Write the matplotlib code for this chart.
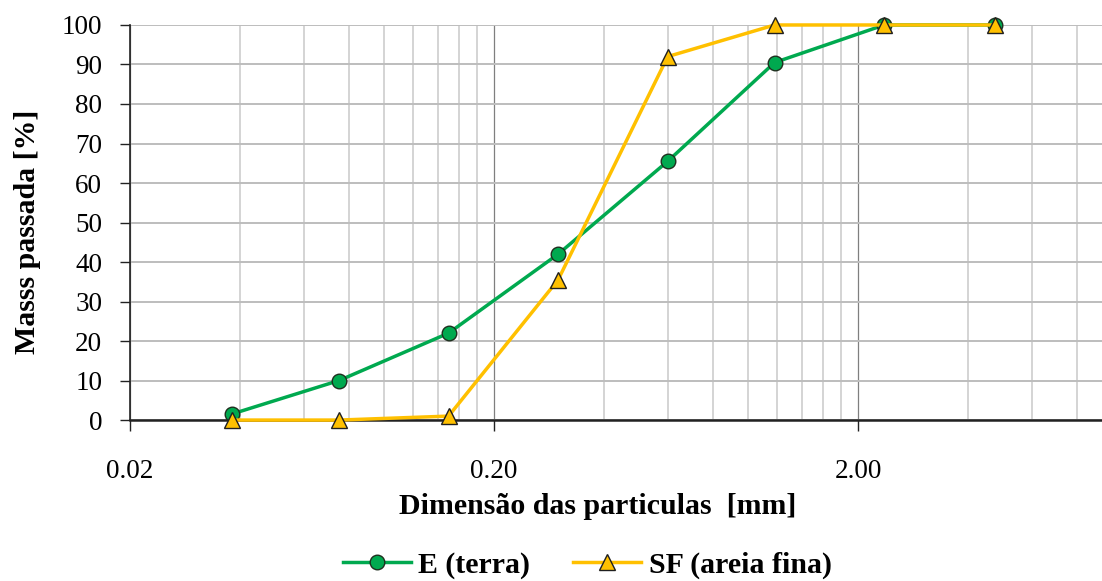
import matplotlib
matplotlib.use("Agg")
import matplotlib.pyplot as plt
from matplotlib.ticker import FixedLocator, NullFormatter

# Sieve openings [mm] and cumulative percentage passing
sizes_mm = [0.038, 0.075, 0.15, 0.30, 0.60, 1.18, 2.36, 4.75]
passing_terra = [1.5, 10, 22, 42, 65.5, 90.5, 100, 100]
passing_areia = [0, 0, 1, 35.5, 92, 100, 100, 100]

major_x = [0.02, 0.2, 2.0]
major_x_labels = ["0.02", "0.20", "2.00"]
minor_x = [0.04, 0.06, 0.08, 0.10, 0.12, 0.14, 0.16, 0.18,
           0.4, 0.6, 0.8, 1.0, 1.2, 1.4, 1.6, 1.8,
           4, 6, 8]
y_ticks = list(range(0, 101, 10))

plt.rcParams["font.family"] = ["Liberation Serif", "DejaVu Serif"]

fig = plt.figure(figsize=(11.02, 5.81), dpi=100)
ax = fig.add_axes([0.118, 0.277, 0.882, 0.680])

green = "#00A94F"
gold = "#FFC000"

ax.plot(sizes_mm, passing_terra, color=green, lw=2.5, marker="o", ms=10.5,
        mfc=green, mec="#1f2f1f", mew=1.0, label="E (terra)", zorder=4,
        clip_on=False)
ax.plot(sizes_mm, passing_areia, color=gold, lw=2.5, marker="^", ms=12,
        mfc=gold, mec="#1f1f1f", mew=1.0, label="SF (areia fina)", zorder=5,
        clip_on=False)

ax.set_xscale("log")
ax.set_xlim(0.02, 9.36)
ax.set_ylim(0, 100)

ax.xaxis.set_major_locator(FixedLocator(major_x))
ax.set_xticklabels(major_x_labels)
ax.xaxis.set_minor_locator(FixedLocator(minor_x))
ax.xaxis.set_minor_formatter(NullFormatter())
ax.set_yticks(y_ticks)

# grid: horizontal lines, light minor verticals, darker major verticals
ax.grid(axis="y", color="#bdbdbd", lw=1.4, zorder=0)
ax.grid(axis="x", which="minor", color="#d4d4d4", lw=1.4, zorder=0)
ax.grid(axis="x", which="major", color="#7f7f7f", lw=0.9, zorder=0)

for side in ("top", "right"):
    ax.spines[side].set_visible(False)
ax.spines["left"].set_color("#222222")
ax.spines["bottom"].set_color("#222222")
ax.spines["left"].set_linewidth(1.2)
ax.spines["bottom"].set_linewidth(1.8)

ax.tick_params(axis="x", which="major", direction="out", length=8, width=1,
               color="#222222", labelsize=19.5, pad=20)
ax.tick_params(axis="x", which="minor", length=0)
ax.tick_params(axis="y", direction="out", length=7, width=1,
               color="#222222", labelsize=19.5, pad=13)

ax.set_xlabel("Dimensão das particulas  [mm]", fontsize=21.5, fontweight="bold")
ax.xaxis.label.set_va("center")
ax.xaxis.set_label_coords(0.481, -0.22)

ax.set_ylabel("Masss passada [%]", fontsize=21.5, fontweight="bold")
ax.yaxis.label.set_va("center")
ax.yaxis.set_label_coords(-0.105, 0.476)

fig.legend(loc="center", bbox_to_anchor=(0.533, 0.0275), ncol=2,
           frameon=False, handlelength=2.27, columnspacing=1.44,
           handletextpad=0.25, prop={"weight": "bold", "size": 21.5})

fig.savefig("out.png", dpi=100)
